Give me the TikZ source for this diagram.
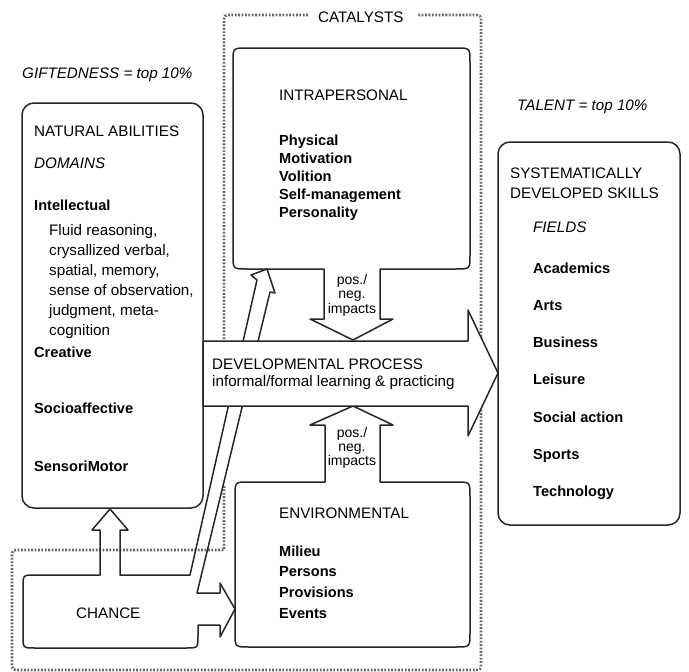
\documentclass[tikz,border=0pt]{standalone}
\usepackage{fontspec}
\setmainfont{Liberation Sans}
\begin{document}
\begin{tikzpicture}[x=1pt,y=-1pt,
  outl/.style={draw=black!85, line width=1.5pt, line join=round},
  dots/.style={draw=black!60, line width=2.6pt, dash pattern=on 1.8pt off 1.6pt},
  txt/.style={inner sep=0pt, anchor=base west, font=\fontsize{15.2}{18}\selectfont},
  btxt/.style={inner sep=0pt, anchor=base west, font=\fontsize{14.6}{17}\selectfont\bfseries},
  itxt/.style={inner sep=0pt, anchor=base west, font=\fontsize{15.2}{18}\selectfont\itshape},
  stxt/.style={inner sep=0pt, anchor=base, font=\fontsize{14}{14}\selectfont}]
\useasboundingbox (0,0) rectangle (689,672);

% catalysts dotted frame
\draw[dots] (308,15) -- (232,15) .. controls (224,15) .. (224,23) -- (224,340);
\draw[dots] (224,486) -- (224,550) -- (20,550) .. controls (12,550) .. (12,558)
  -- (12,662) .. controls (12,670) .. (20,670) -- (473,670) .. controls (481,670) .. (481,662)
  -- (481,23) .. controls (481,15) .. (473,15) -- (418,15);
\node[txt] (cat) at (318,22) {CATALYSTS};

% natural abilities box
\draw[outl, rounded corners=12pt] (22,103) rectangle (203,508);
% talent box
\draw[outl, rounded corners=12pt] (498,142) rectangle (680,525);

% intrapersonal box with down arrow
\draw[outl, fill=white] (310,319) -- (324,319) -- (324,269) -- (247,269) .. controls (233,269) .. (233,255)
  -- (233,62) .. controls (233,48) .. (247,48) -- (456,48) .. controls (470,48) .. (470,62)
  -- (470,255) .. controls (470,269) .. (456,269) -- (380,269) -- (380,319) -- (393,319) -- (353,340) -- cycle;

% environmental box with up arrow
\draw[outl, fill=white] (310,425) -- (325,425) -- (325,482) -- (249,482) .. controls (235,482) .. (235,496)
  -- (235,633) .. controls (235,647) .. (249,647) -- (456,647) .. controls (470,647) .. (470,633)
  -- (470,496) .. controls (470,482) .. (456,482) -- (380,482) -- (380,425) -- (393,425) -- (353,406) -- cycle;

% chance shape with its arrows
\draw[outl] (100,575) -- (100,530) -- (92,530) -- (110,509) -- (128,530) -- (120,530) -- (120,575)
  -- (190,575) -- (257,280) -- (251,275) -- (267,269) -- (275,293) -- (270,292) -- (197,593)
  -- (220,593) -- (220,583) -- (235,609) -- (220,637) -- (220,625) -- (198,625)
  -- (198,636) .. controls (198,648) .. (186,648) -- (35,648) .. controls (23,648) .. (23,636)
  -- (23,587) .. controls (23,575) .. (35,575) -- cycle;

% developmental process arrow
\draw[outl, fill=white] (203,341) -- (468,341) -- (468,310) -- (498,373) -- (468,436) -- (468,406) -- (203,406) -- cycle;

% texts
\node[itxt] (gift) at (22,78) {GIFTEDNESS = top 10\%};
\node[itxt] (tal) at (517,110) {TALENT = top 10\%};

\node[txt] (na) at (34,136) {NATURAL ABILITIES};
\node[itxt] (dom) at (34,168) {DOMAINS};
\node[btxt] (intel) at (34,210) {Intellectual};
\foreach \t [count=\i] in {{Fluid reasoning,}, {crysallized verbal,}, {spatial, memory,}, {sense of observation,}, {judgment, meta-}, {cognition}}
  \node[txt] (sub\i) at (49,{215+20*\i}) {\t};
\node[btxt] (crea) at (34,357) {Creative};
\node[btxt] (socio) at (34,413) {Socioaffective};
\node[btxt] (senso) at (34,471) {SensoriMotor};

\node[txt] (intra) at (279,100) {INTRAPERSONAL};
\foreach \t [count=\i] in {Physical, Motivation, Volition, Self-management, Personality}
  \node[btxt] (ip\i) at (279,{127.5+18*\i}) {\t};

\node[stxt] (up1) at (352,284) {pos./};
\node[stxt] (up2) at (352,298.5) {neg.};
\node[stxt] (up3) at (352,313) {impacts};
\node[stxt] (lo1) at (352,437) {pos./};
\node[stxt] (lo2) at (352,451) {neg.};
\node[stxt] (lo3) at (352,465) {impacts};

\node[txt] (dev1) at (212,369) {DEVELOPMENTAL PROCESS};
\node[txt] (dev2) at (212,386) {informal/formal learning \& practicing};

\node[txt] (env) at (279,518) {ENVIRONMENTAL};
\foreach \t [count=\i] in {Milieu, Persons, Provisions, Events}
  \node[btxt] (ev\i) at (279,{535.2+20.8*\i}) {\t};

\node[txt] (chance) at (76,618) {CHANCE};

\node[txt] (sys1) at (510,178) {SYSTEMATICALLY};
\node[txt] (sys2) at (510,198) {DEVELOPED SKILLS};
\node[itxt] (fields) at (533,232) {FIELDS};
\foreach \t [count=\i] in {Academics, Arts, Business, Leisure, Social action, Sports, Technology}
  \node[btxt] (fd\i) at (533,{235.7+37.3*\i}) {\t};
\end{tikzpicture}
\end{document}
